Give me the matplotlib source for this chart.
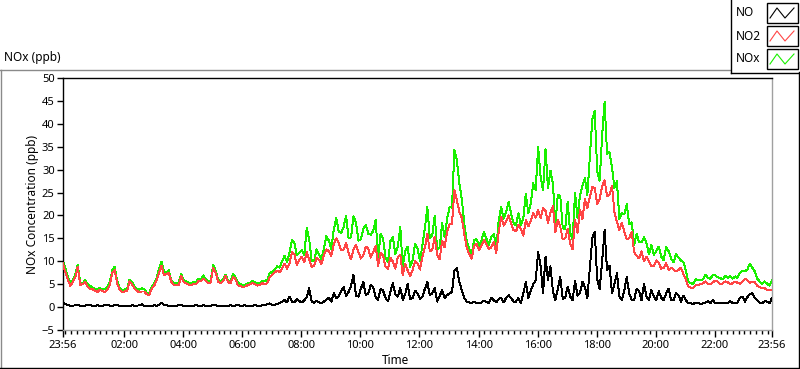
import numpy as np
import matplotlib
matplotlib.use("Agg")
import matplotlib.pyplot as plt
from matplotlib.lines import Line2D
from matplotlib.patches import Rectangle

plt.rcParams['font.family'] = ['Noto Sans', 'DejaVu Sans']

# ---- data: samples every 10 min from 23:56 (a) and 5 min later (b) ----
minutes_a = np.arange(0, 1441, 10)
minutes_b = np.arange(5, 1440, 10)

no2_a = [9.5, 6.0, 5.5, 8.8, 5.0, 4.4, 3.9, 3.3, 3.5, 3.7,
         7.5, 5.2, 3.2, 3.5, 5.0, 3.6, 3.4, 2.8, 4.0, 5.9,
         9.0, 7.2, 5.5, 4.8, 6.8, 5.2, 4.8, 5.0, 5.7, 5.8,
         5.4, 7.5, 5.3, 6.8, 5.2, 6.2, 4.6, 4.5, 5.0, 5.0,
         4.8, 5.0, 6.6, 7.6, 7.6, 9.5, 9.5, 11.5, 10.3, 9.8,
         10.5, 9.0, 10.3, 11.5, 12.2, 13.8, 14.0, 12.6, 11.8, 12.6,
         12.0, 11.3, 12.8, 12.0, 9.0, 11.3, 8.3, 9.9, 10.8, 7.0,
         8.0, 8.1, 9.6, 11.0, 16.0, 12.5, 11.3, 14.5, 16.4, 18.2,
         23.3, 19.5, 13.0, 10.6, 13.8, 13.5, 13.7, 13.1, 11.8, 19.7,
         18.6, 18.3, 16.5, 17.0, 19.0, 18.8, 19.5, 19.4, 21.0, 20.7,
         16.4, 17.5, 15.0, 13.9, 19.0, 21.2, 23.5, 24.1, 26.0, 23.5,
         27.7, 24.5, 20.8, 16.8, 16.5, 15.0, 12.0, 10.6, 10.0, 9.9,
         9.0, 9.6, 8.6, 8.1, 8.2, 8.1, 7.2, 4.5, 4.2, 4.8,
         5.2, 5.0, 5.4, 5.5, 5.2, 5.4, 5.2, 5.3, 5.5, 5.9,
         5.5, 4.6, 4.1, 3.8, 3.7]
no2_b = [7.5, 4.6, 6.5, 4.8, 5.4, 4.0, 3.5, 3.8, 3.3, 4.8,
         8.1, 3.8, 3.4, 5.6, 4.1, 3.2, 3.4, 2.6, 4.6, 7.5,
         7.0, 7.4, 4.8, 4.8, 5.5, 4.9, 5.0, 5.7, 6.2, 5.2,
         8.5, 5.5, 5.6, 5.5, 6.5, 4.8, 4.4, 4.8, 5.2, 4.7,
         5.2, 5.2, 7.0, 7.9, 8.4, 8.4, 12.0, 9.2, 11.0, 12.0,
         8.8, 10.8, 9.4, 12.6, 11.2, 15.0, 12.4, 14.0, 10.4, 13.6,
         10.6, 13.2, 10.8, 13.4, 11.8, 8.8, 10.8, 8.4, 11.4, 9.4,
         6.8, 10.0, 8.2, 13.0, 12.2, 15.4, 10.4, 13.0, 18.0, 25.5,
         20.8, 16.0, 11.6, 13.4, 12.4, 14.6, 12.6, 14.2, 16.5, 17.8,
         20.0, 16.8, 18.0, 15.6, 17.6, 20.5, 21.2, 21.6, 18.4, 22.0,
         19.0, 14.8, 17.0, 12.6, 16.2, 19.2, 21.6, 26.2, 22.4, 26.4,
         24.2, 26.4, 18.6, 18.4, 14.8, 16.4, 11.2, 12.2, 11.0, 9.0,
         10.2, 8.4, 9.6, 8.6, 7.8, 8.6, 6.0, 4.2, 4.8, 5.0,
         5.6, 5.0, 5.8, 5.0, 5.6, 5.0, 5.6, 5.1, 6.2, 5.3,
         5.5, 4.4, 4.1, 3.7]

no_a = [1.0, 0.5, 0.3, 0.4, 0.2, 0.5, 0.3, 0.4, 0.3, 0.5,
        0.3, 0.4, 0.2, 0.3, 0.4, 0.3, 0.6, 0.3, 0.2, 0.3,
        0.9, 0.4, 0.2, 0.3, 0.4, 0.3, 0.3, 0.4, 0.2, 0.3,
        0.3, 0.4, 0.2, 0.3, 0.4, 0.3, 0.3, 0.4, 0.3, 0.4,
        0.3, 0.5, 0.8, 0.5, 0.9, 1.5, 2.3, 1.0, 1.3, 1.5,
        4.1, 0.9, 1.0, 1.2, 2.0, 3.0, 2.3, 4.4, 3.3, 7.0,
        2.3, 5.5, 3.0, 4.4, 1.6, 3.6, 1.3, 5.2, 2.3, 1.6,
        5.0, 2.0, 3.0, 2.3, 5.5, 3.0, 1.2, 3.7, 2.6, 3.3,
        8.5, 3.7, 1.2, 0.9, 0.9, 1.0, 1.1, 2.0, 1.0, 2.0,
        2.0, 2.0, 1.2, 0.8, 5.5, 3.5, 5.8, 9.0, 11.0, 8.9,
        1.5, 6.5, 2.0, 2.3, 5.8, 3.0, 4.4, 8.5, 16.5, 4.0,
        16.8, 9.0, 5.0, 2.3, 3.7, 3.0, 1.5, 3.5, 5.0, 1.5,
        2.3, 3.5, 1.5, 4.0, 1.5, 2.6, 2.5, 0.8, 0.7, 0.9,
        0.8, 1.3, 1.5, 0.9, 0.8, 0.9, 0.9, 1.0, 2.3, 2.2,
        3.0, 1.5, 0.8, 1.2, 2.0]
no_b = [0.6, 0.3, 0.4, 0.3, 0.3, 0.4, 0.3, 0.2, 0.4, 0.3,
        0.4, 0.3, 0.3, 0.2, 0.3, 0.4, 0.3, 0.3, 0.4, 0.5,
        0.5, 0.3, 0.3, 0.4, 0.3, 0.2, 0.3, 0.3, 0.4, 0.2,
        0.5, 0.3, 0.3, 0.2, 0.3, 0.5, 0.3, 0.2, 0.3, 0.3,
        0.4, 0.6, 0.4, 0.7, 1.2, 1.0, 1.2, 1.8, 1.0, 2.2,
        1.2, 1.4, 0.9, 1.6, 1.2, 2.0, 3.5, 2.4, 4.6, 2.5,
        4.0, 2.6, 4.8, 2.2, 4.0, 2.0, 3.4, 2.8, 4.2, 2.8,
        1.8, 3.6, 1.8, 4.0, 2.6, 4.2, 2.4, 2.0, 3.0, 8.0,
        5.5, 2.0, 1.0, 1.1, 0.8, 1.4, 0.9, 1.5, 1.8, 1.0,
        2.6, 1.2, 2.0, 3.0, 2.0, 5.0, 12.0, 3.0, 6.0, 3.5,
        4.0, 1.8, 4.5, 1.5, 2.5, 5.5, 2.0, 15.0, 6.0, 10.0,
        8.0, 3.0, 7.4, 1.5, 6.5, 1.5, 4.0, 1.5, 2.3, 3.7,
        1.5, 2.0, 3.0, 1.5, 3.0, 1.2, 1.5, 0.8, 1.0, 0.7,
        1.0, 0.9, 0.8, 1.0, 0.9, 1.3, 0.8, 2.0, 1.2, 2.8,
        2.0, 1.0, 1.3, 0.8]

nox_a = [10.0, 6.6, 5.8, 9.2, 5.2, 5.0, 4.3, 3.8, 3.8, 4.3,
         8.0, 5.7, 3.5, 3.8, 5.5, 3.9, 4.1, 3.1, 4.3, 6.3,
         9.9, 7.6, 5.8, 5.1, 7.2, 5.6, 5.1, 5.4, 6.0, 6.1,
         5.8, 8.0, 5.6, 7.1, 5.6, 6.6, 5.0, 4.9, 5.3, 5.4,
         5.1, 5.6, 7.4, 8.2, 8.6, 11.2, 12.0, 14.0, 11.8, 11.4,
         14.8, 10.0, 11.5, 12.8, 14.5, 17.0, 16.5, 17.5, 15.0, 19.8,
         14.5, 17.0, 16.0, 16.6, 10.8, 15.0, 9.8, 15.3, 13.2, 8.8,
         13.2, 10.2, 12.8, 13.5, 21.8, 15.7, 12.6, 18.4, 19.2, 21.7,
         32.0, 23.5, 14.3, 11.6, 14.8, 14.6, 14.9, 15.3, 12.9, 21.8,
         20.8, 20.4, 17.8, 17.9, 24.8, 22.5, 25.5, 28.5, 34.5, 29.8,
         18.0, 24.2, 17.1, 16.4, 25.0, 24.4, 28.2, 32.8, 42.8, 27.6,
         44.8, 33.8, 26.0, 19.2, 20.3, 18.1, 13.6, 14.2, 15.2, 11.5,
         11.4, 13.2, 10.2, 12.2, 9.8, 10.8, 9.8, 5.4, 5.0, 5.8,
         6.1, 6.4, 7.0, 6.5, 6.1, 6.4, 6.2, 6.4, 7.9, 8.2,
         8.6, 6.2, 5.0, 5.1, 5.8]
nox_b = [8.4, 5.2, 7.2, 5.3, 5.9, 4.6, 4.0, 4.2, 3.9, 5.4,
         8.8, 4.3, 3.9, 6.0, 4.6, 3.8, 4.0, 3.1, 5.2, 8.3,
         7.8, 8.0, 5.3, 5.4, 6.0, 5.3, 5.5, 6.2, 6.9, 5.6,
         9.2, 6.0, 6.1, 5.9, 7.2, 5.5, 4.9, 5.2, 5.7, 5.2,
         5.8, 6.0, 7.7, 8.9, 10.0, 9.8, 14.6, 11.4, 12.5, 17.2,
         10.2, 12.6, 10.5, 15.5, 12.6, 19.4, 16.2, 20.0, 15.2, 18.5,
         14.8, 18.0, 15.8, 19.0, 16.0, 10.9, 14.4, 11.5, 17.5, 12.3,
         8.8, 13.8, 10.1, 17.2, 15.0, 20.0, 12.9, 15.2, 21.8, 34.3,
         27.0, 18.3, 12.8, 14.6, 13.4, 16.4, 13.6, 16.0, 19.0, 19.3,
         23.0, 18.4, 20.5, 19.5, 20.5, 27.0, 35.0, 25.5, 26.0, 27.0,
         24.5, 17.2, 23.0, 14.6, 19.5, 26.5, 24.5, 41.0, 29.5, 37.5,
         33.5, 30.5, 27.5, 20.5, 22.5, 18.5, 16.0, 14.2, 14.0, 13.5,
         12.2, 11.0, 13.2, 10.6, 11.5, 10.2, 8.0, 5.3, 6.2, 5.9,
         7.0, 6.2, 6.9, 6.3, 6.8, 6.7, 6.7, 7.5, 7.8, 9.5,
         7.8, 5.6, 5.6, 4.7]

tick_labels = ["23:56", "02:00", "04:00", "06:00", "08:00", "10:00", "12:00",
               "14:00", "16:00", "18:00", "20:00", "22:00", "23:56"]
series_names = ["NO", "NO2", "NOx"]

col_no, col_no2, col_nox = "#000000", "#ff4545", "#19f000"


def merged(a, b):
    t = np.concatenate([minutes_a, minutes_b])
    v = np.concatenate([a, b])
    o = np.argsort(t)
    return t[o], v[o]


# ---- figure ----
W, H = 800, 369
fig = plt.figure(figsize=(W / 100, H / 100), dpi=100)
fx = lambda x: x / W
fy = lambda y: 1 - y / H

ax = fig.add_axes([fx(63), fy(330), (772 - 63) / W, (330 - 78) / H])
for (a, b), c, z in [((nox_a, nox_b), col_nox, 2),
                     ((no2_a, no2_b), col_no2, 3),
                     ((no_a, no_b), col_no, 4)]:
    t, v = merged(a, b)
    ax.plot(t, v, color=c, lw=0.7, zorder=z, antialiased=False)

ax.set_xlim(0, 1440)
ax.set_ylim(-5, 50)
ax.set_yticks(np.arange(-5, 51, 5))
ax.tick_params(axis='y', direction='out', length=4, width=1, pad=2,
               labelsize=8, colors='black')

# x ticks: endpoints at 23:56, even hours in between
major_pos = []
for lab in tick_labels:
    h, m = map(int, lab.split(":"))
    pos = ((h * 60 + m) - (23 * 60 + 56)) % 1440
    major_pos.append(pos)
major_pos[-1] = 1440
ax.set_xticks(major_pos)
ax.set_xticklabels(tick_labels)
ax.set_xticks(np.arange(4, 1440, 12), minor=True)
ax.tick_params(axis='x', which='major', direction='out', length=5, width=1,
               pad=2, labelsize=8)
ax.tick_params(axis='x', which='minor', direction='out', length=3, width=1)

for s in ['left', 'top']:
    ax.spines[s].set_color('black')
    ax.spines[s].set_linewidth(1)
for s in ['right', 'bottom']:
    ax.spines[s].set_color('#a0a0a0')
    ax.spines[s].set_linewidth(1)

fig.text(fx(33), fy(204), "NOx Concentration (ppb)", rotation=90,
         ha='center', va='center', fontsize=8.5)
fig.text(fx(395), fy(360), "Time", ha='center', va='center', fontsize=8.5)
fig.text(fx(4), fy(57), "NOx (ppb)", ha='left', va='center', fontsize=8.5)


# panel frame
def fline(x0, y0, x1, y1, c, lw=1):
    fig.add_artist(Line2D([fx(x0), fx(x1)], [fy(y0), fy(y1)], color=c,
                          lw=lw, transform=fig.transFigure))


fline(0, 69.5, 730, 69.5, '#8a8a8a')
fline(0.5, 69.5, 0.5, 368, '#8a8a8a')
fline(0, 368, 799, 368, 'black')
fline(798.5, 72, 798.5, 368, 'black')
# legend box
fline(730.5, 0, 730.5, 72.5, 'black')
fline(730.5, 72.5, 800, 72.5, 'black')

leg_cols = [col_no, col_no2, col_nox]
for k, (name, c) in enumerate(zip(series_names, leg_cols)):
    yc = 13 + 23 * k
    fig.text(fx(736), fy(yc), name, ha='left', va='center', fontsize=8.5)
    fig.add_artist(Rectangle((fx(767), fy(yc + 10)), 31 / W, 20 / H,
                             transform=fig.transFigure, fill=False,
                             edgecolor='black', lw=1))
    fig.add_artist(Line2D([fx(770), fx(777), fx(785), fx(794)],
                          [fy(yc + 5), fy(yc - 5), fy(yc + 5), fy(yc - 5)],
                          color=c, lw=0.8, transform=fig.transFigure))

fig.savefig("out.png", dpi=100)
